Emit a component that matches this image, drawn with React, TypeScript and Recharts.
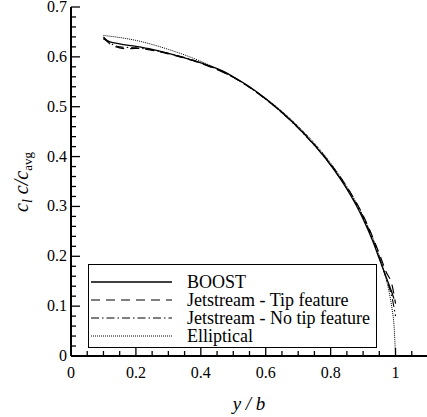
import React from "react";
import { LineChart, Line, XAxis, YAxis, Legend } from "recharts";

const FONT = "Liberation Serif";

// spanwise loading
const boostX = [0.1, 0.12, 0.15, 0.2, 0.25, 0.3, 0.35, 0.4, 0.47, 0.5, 0.55, 0.6, 0.65, 0.7, 0.75, 0.8, 0.85, 0.9, 0.93, 0.95, 0.97, 0.99, 0.995];
const boostY = [0.636, 0.63, 0.626, 0.621, 0.615, 0.607, 0.598, 0.588, 0.571, 0.56, 0.54, 0.516, 0.489, 0.458, 0.423, 0.383, 0.335, 0.275, 0.23, 0.195, 0.16, 0.125, 0.115];

const tipX = [0.1, 0.12, 0.15, 0.17, 0.2, 0.25, 0.3, 0.4, 0.5, 0.6, 0.7, 0.8, 0.85, 0.9, 0.95, 0.97, 0.99, 1.0];
const tipY = [0.638, 0.626, 0.618, 0.616, 0.617, 0.613, 0.606, 0.587, 0.559, 0.515, 0.458, 0.385, 0.339, 0.282, 0.205, 0.17, 0.14, 0.105];

const noTipX = [0.1, 0.12, 0.15, 0.2, 0.25, 0.3, 0.4, 0.5, 0.6, 0.7, 0.8, 0.85, 0.9, 0.95, 0.97, 0.99, 1.0];
const noTipY = [0.64, 0.628, 0.62, 0.618, 0.614, 0.607, 0.588, 0.559, 0.515, 0.457, 0.383, 0.336, 0.278, 0.198, 0.158, 0.115, 0.08];

const ellX = [0.1, 0.2, 0.3, 0.4, 0.5, 0.6, 0.7, 0.75, 0.8, 0.85, 0.9, 0.93, 0.95, 0.97, 0.98, 0.99, 0.995, 1.0];
const ellY = [0.643, 0.633, 0.615, 0.591, 0.559, 0.517, 0.461, 0.427, 0.387, 0.34, 0.281, 0.237, 0.201, 0.157, 0.129, 0.091, 0.064, 0];

const xTicks = [0, 0.05, 0.1, 0.15, 0.2, 0.25, 0.3, 0.35, 0.4, 0.45, 0.5, 0.55, 0.6, 0.65, 0.7, 0.75, 0.8, 0.85, 0.9, 0.95, 1, 1.05, 1.1];
const xLabels = ["0", "0.2", "0.4", "0.6", "0.8", "1"];
const yTicks = [0, 0.02, 0.04, 0.06, 0.08, 0.1, 0.12, 0.14, 0.16, 0.18, 0.2, 0.22, 0.24, 0.26, 0.28, 0.3, 0.32, 0.34, 0.36, 0.38, 0.4, 0.42, 0.44, 0.46, 0.48, 0.5, 0.52, 0.54, 0.56, 0.58, 0.6, 0.62, 0.64, 0.66, 0.68, 0.7];
const yLabels = ["0", "0.1", "0.2", "0.3", "0.4", "0.5", "0.6", "0.7"];

const seriesNames = ["BOOST", "Jetstream - Tip feature", "Jetstream - No tip feature", "Elliptical"];
const dashes = ["", "9 6", "8 3 1.5 3", "1 1"];
const widths = [1.3, 1.2, 1.1, 1];

const zip = (xs: number[], ys: number[]) => xs.map((x, i) => ({ x, y: ys[i] }));
const series = [zip(boostX, boostY), zip(tipX, tipY), zip(noTipX, noTipY), zip(ellX, ellY)];

const fmt = (v: number) => String(Number(v.toFixed(2)));
const isMajor = (v: number, labels: string[]) => labels.includes(fmt(v));

const BottomTick = (p: any) => {
  const v = p.payload.value;
  const major = isMajor(v, xLabels);
  return (
    <g>
      <line x1={p.x} x2={p.x} y1={p.y} y2={p.y - (major ? 8 : 5)} stroke="#000" strokeWidth={1.3} />
      {major && (
        <text x={p.x} y={p.y + 22} textAnchor="middle" fontFamily={FONT} fontSize={16} fill="#000">
          {fmt(v)}
        </text>
      )}
    </g>
  );
};

const TopTick = (p: any) => {
  const major = isMajor(p.payload.value, xLabels);
  return <line x1={p.x} x2={p.x} y1={p.y} y2={p.y + (major ? 8 : 5)} stroke="#000" strokeWidth={1.3} />;
};

const LeftTick = (p: any) => {
  const v = p.payload.value;
  const major = isMajor(v, yLabels);
  return (
    <g>
      <line x1={p.x} x2={p.x + (major ? 9 : 5)} y1={p.y} y2={p.y} stroke="#000" strokeWidth={1.3} />
      {major && (
        <text x={p.x - 4} y={p.y + 5} textAnchor="end" fontFamily={FONT} fontSize={16} fill="#000">
          {fmt(v)}
        </text>
      )}
    </g>
  );
};

const RightTick = (p: any) => {
  const major = isMajor(p.payload.value, yLabels);
  return <line x1={p.x} x2={p.x - (major ? 9 : 5)} y1={p.y} y2={p.y} stroke="#000" strokeWidth={1.3} />;
};

const LegendBox = () => (
  <div
    style={{
      width: 289,
      height: 84,
      boxSizing: "border-box",
      border: "1.5px solid #000",
      background: "#fff",
      paddingTop: 8,
      fontFamily: FONT,
      fontSize: 18,
      color: "#000",
      textAlign: "left",
    }}
  >
    {seriesNames.map((name, i) => (
      <div key={name} style={{ display: "flex", alignItems: "center", height: 18 }}>
        <svg width={98} height={10} style={{ flex: "none" }}>
          <line x1={2} x2={83} y1={5} y2={5} stroke="#000" strokeWidth={widths[i]} strokeDasharray={dashes[i] || undefined} />
        </svg>
        <span style={{ lineHeight: "18px" }}>{name}</span>
      </div>
    ))}
  </div>
);

export default function App() {
  return (
    <div style={{ width: 427, height: 417, overflow: "hidden", background: "#fff", position: "relative", fontFamily: FONT }}>
      <style>{"body{margin:0}"}</style>
      <LineChart width={428} height={417} margin={{ top: 7, right: 0, bottom: 0, left: 0 }}>
        <XAxis
          xAxisId="bottom"
          dataKey="x"
          type="number"
          domain={[0, 1.1]}
          ticks={xTicks}
          interval={0}
          allowDataOverflow
          height={61}
          tickSize={0}
          tickMargin={0}
          tickLine={false}
          tick={<BottomTick />}
          axisLine={{ stroke: "#000", strokeWidth: 2 }}
          label={{
            content: () => (
              <text x={249} y={410} textAnchor="middle" fontFamily={FONT} fontSize={19} fontStyle="italic" fill="#000">
                y / b
              </text>
            ),
          }}
        />
        <XAxis
          xAxisId="top"
          orientation="top"
          dataKey="x"
          type="number"
          domain={[0, 1.1]}
          ticks={xTicks}
          interval={0}
          allowDataOverflow
          height={0}
          tickSize={0}
          tickMargin={0}
          tickLine={false}
          tick={<TopTick />}
          axisLine={{ stroke: "#000", strokeWidth: 2 }}
        />
        <YAxis
          yAxisId="left"
          type="number"
          domain={[0, 0.7]}
          ticks={yTicks}
          interval={0}
          allowDataOverflow
          width={71}
          tickSize={0}
          tickMargin={0}
          tickLine={false}
          tick={<LeftTick />}
          axisLine={{ stroke: "#000", strokeWidth: 2 }}
          label={{
            content: () => (
              <text
                x={28}
                y={182}
                transform="rotate(-90, 28, 182)"
                textAnchor="middle"
                fontFamily={FONT}
                fontSize={20}
                fill="#000"
              >
                <tspan fontStyle="italic">c</tspan>
                <tspan fontStyle="italic" fontSize={14} dy={4}>l</tspan>
                <tspan fontStyle="italic" dy={-4}> c/c</tspan>
                <tspan fontSize={13} dy={4}>avg</tspan>
              </text>
            ),
          }}
        />
        <YAxis
          yAxisId="right"
          orientation="right"
          type="number"
          domain={[0, 0.7]}
          ticks={yTicks}
          interval={0}
          allowDataOverflow
          width={0}
          tickSize={0}
          tickMargin={0}
          tickLine={false}
          tick={<RightTick />}
          axisLine={{ stroke: "#000", strokeWidth: 2 }}
        />
        {series.map((d, i) => (
          <Line
            key={seriesNames[i]}
            xAxisId="bottom"
            yAxisId="left"
            data={d}
            dataKey="y"
            name={seriesNames[i]}
            type="monotone"
            stroke="#000"
            strokeWidth={widths[i]}
            strokeDasharray={dashes[i] || undefined}
            dot={false}
            isAnimationActive={false}
          />
        ))}
        <Legend
          layout="vertical"
          align="center"
          verticalAlign="middle"
          content={<LegendBox />}
          wrapperStyle={{ left: 88, top: 264, width: 289, height: 84 }}
        />
      </LineChart>
    </div>
  );
}
